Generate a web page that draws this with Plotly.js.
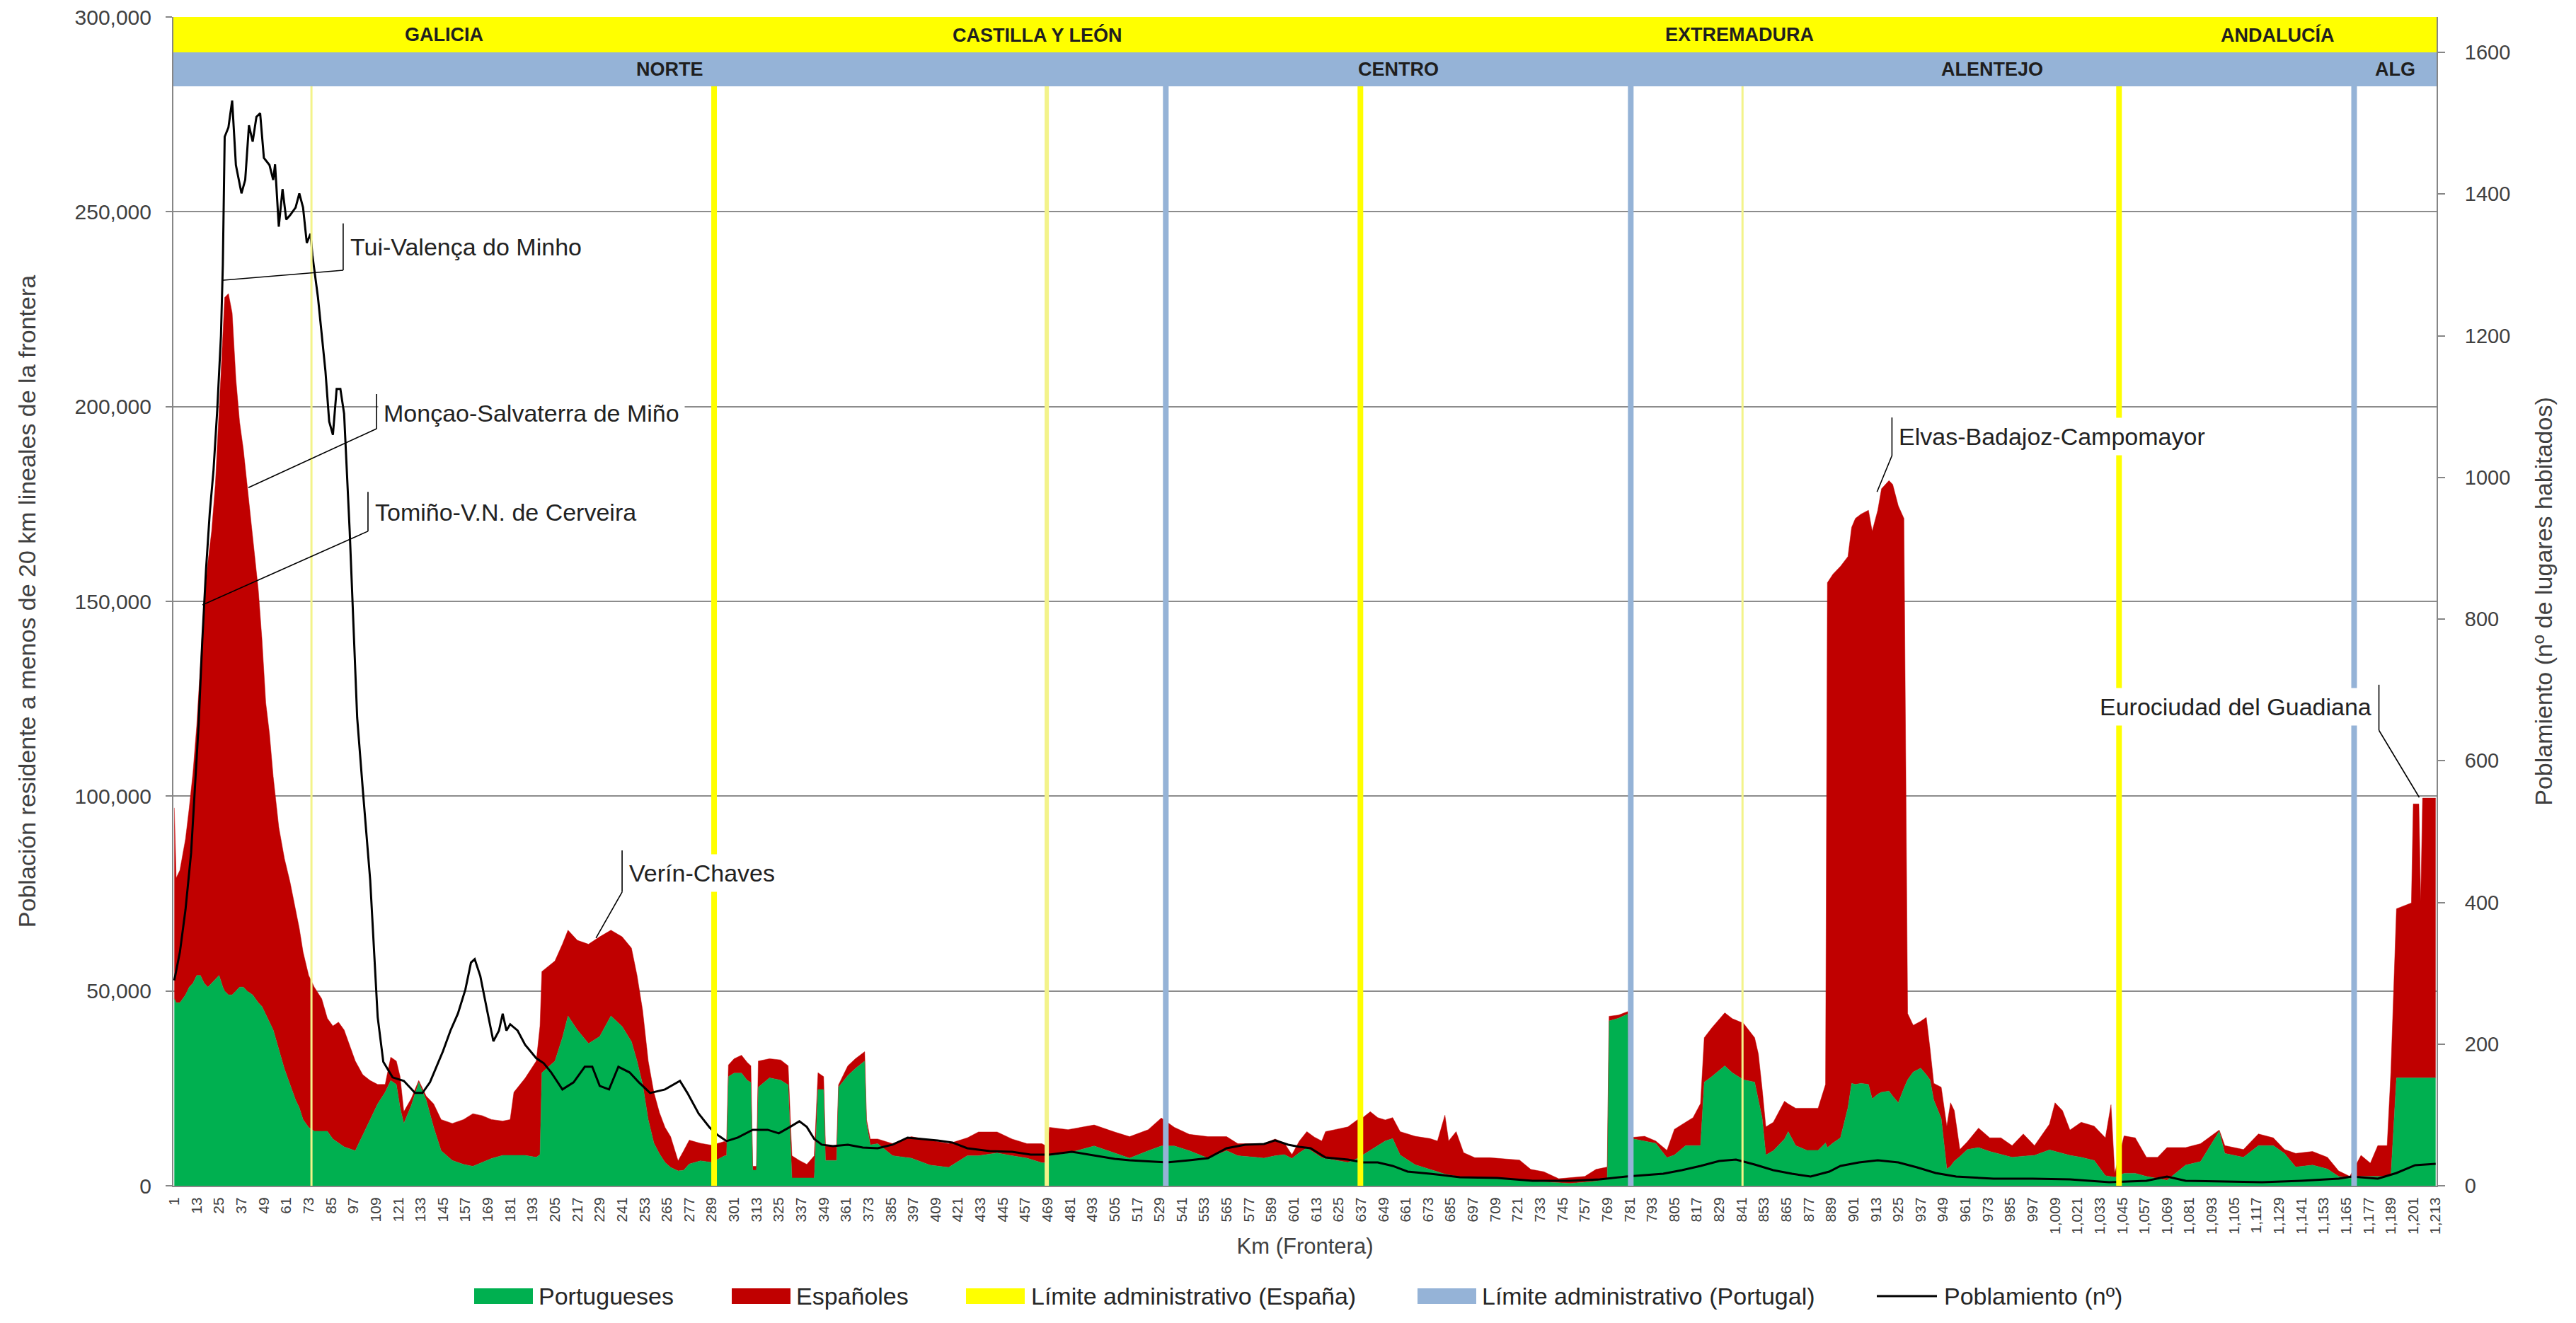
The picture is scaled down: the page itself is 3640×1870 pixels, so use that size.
<!DOCTYPE html>
<html>
<head>
<meta charset="utf-8">
<script src="https://cdn.plot.ly/plotly-3.0.1.min.js"></script>
<style>html,body{margin:0;padding:0;background:#fff;}#chart{width:3640px;height:1870px;}</style>
</head>
<body>
<div id="chart"></div>
<script>
// ---- Data (km of frontier) ----
const km = [1,2,4,7,9,11,13,15,17,19,
21,23,25,27,28,30,32,34,36,38,
40,43,46,48,50,52,54,57,60,63,
66,68,70,73,76,80,83,86,89,92,
95,98,102,106,110,114,117,120,122,124,
128,132,136,140,144,150,156,161,166,171,
177,181,183,189,195,197,198,205,209,212,
217,223,229,235,241,246,249,252,255,258,
261,264,267,271,274,277,283,289,296,297,
298,301,305,308,310,311,313,314,320,326,
330,332,336,340,344,346,349,350,356,357,
362,366,371,372,374,378,386,396,406,416,
426,432,442,450,458,466,469,470,480,494,
505,513,523,530,537,545,555,565,571,585,
591,596,600,604,608,612,616,618,624,630,
635,638,642,646,650,654,658,666,674,678,
682,684,688,692,698,706,714,722,728,735,
743,749,757,763,769,770,775,780,782,789,
795,801,805,811,815,819,821,825,832,836,
842,848,850,852,854,858,864,866,870,876,
882,886,887,890,894,898,900,902,905,909,
911,914,916,920,922,925,928,930,933,937,
940,942,944,948,951,953,955,958,962,968,
974,980,986,992,998,1006,1009,1013,1017,1023,
1030,1036,1039,1041,1046,1052,1058,1064,1069,1079,
1087,1097,1100,1110,1118,1126,1132,1138,1147,1155,
1161,1167,1173,1178,1182,1187,1189,1192,1200,1201,
1204,1205,1206,1213];

const portugueses = [48000,47000,47000,49000,51000,52000,54000,54000,52000,51000,
52000,53000,54000,51000,50000,49000,49000,50000,51000,51000,
50000,49000,47000,46000,44000,42000,40000,35000,30000,26000,
22000,20000,17000,15000,14000,14000,14000,12000,11000,10000,
9500,9000,13000,17000,21000,24000,27000,26000,20000,16000,
20600,26500,22000,15000,9000,6500,5500,5000,6000,7000,
7800,7800,7800,7800,7300,8000,29000,32000,38000,43600,
40000,36500,38300,43600,40900,37000,32000,26000,17000,11000,
8200,6000,4700,3800,4000,5600,6400,6000,7700,7700,
28000,28900,28900,27100,26500,4000,4000,25300,27700,27100,
25900,2000,2000,2000,2000,24700,24700,6500,6500,25300,
28300,30100,32000,16000,10500,10800,7700,7100,5300,4700,
7700,7700,8400,7700,7100,5900,5900,7700,8400,10200,
8400,7100,9000,10200,10200,9000,7100,9000,7700,7100,
7700,8000,7000,8500,9700,8500,7200,7000,6500,6000,
7000,7900,9000,10300,11500,12100,7900,5400,4200,3500,
3000,2800,2400,2100,2000,1900,1800,1500,1200,1000,
700,600,900,1200,1800,42300,43000,44100,12100,11500,
10900,7200,7900,10300,10300,10300,26600,28000,30800,29000,
27200,26600,22000,17500,7900,9000,12000,13900,10300,9100,
9100,11000,9800,11000,12300,20000,26300,26000,26300,26000,
22300,23500,24000,24300,23000,21300,25000,27200,29200,30200,
28500,27200,22000,17300,4300,5000,6300,7500,9300,9800,
8800,8000,7300,7600,7800,9200,8800,8200,7800,7300,
6500,2600,2400,2200,3200,3200,2400,1800,1400,5300,
6200,14000,8300,7300,10300,10300,8300,4800,5300,4300,
2400,1900,2400,2400,2400,2400,2400,27700,27700,27700,
27700,27700,27700,27700];

const espanoles = [49000,32000,34000,40000,46000,54000,64000,81000,98000,109000,
116000,127000,144000,167000,178000,180000,175000,157000,145000,138000,
130000,117000,106000,94000,80000,74000,65000,57000,54000,52000,
49000,46000,43000,39000,37000,34000,29000,29000,31000,30000,
26500,23000,15500,10000,5000,2000,6000,6000,8000,3000,
1800,500,1000,6000,8000,9500,11500,13500,12000,10000,
8800,9200,16200,19800,24700,33000,26000,25700,24000,22000,
23000,25500,25600,22000,23000,24000,22000,19000,15000,13000,
10600,9000,7900,2600,5000,6100,4500,4400,3700,3300,
3000,3700,4600,4600,4300,1000,1000,6700,4900,5200,
4900,5700,4500,3500,5700,4300,3300,3700,3700,600,
2500,2500,2400,1000,1500,1200,3100,5500,6400,6100,
4600,6100,5400,4300,3700,4900,4100,7300,6000,5400,
5400,5500,5400,7200,4800,4200,5500,3600,3100,3700,
4300,2900,1000,3000,4200,4000,4300,6900,8000,9100,
9900,9600,10000,7200,5400,5400,6000,7300,7900,8000,
15100,8700,11500,6400,5200,5300,5100,5100,3000,2600,
1100,1500,1500,3000,3000,1200,800,600,300,1200,
600,1900,6600,6000,7200,10800,11400,12500,13600,13900,
14500,11400,11800,7500,7200,7300,9700,7100,9600,10800,
10800,15000,145000,146000,146700,141500,142700,145300,146100,147400,
145700,149900,154900,156700,157000,153200,146300,17000,12000,12000,
14700,8000,4300,8000,11000,16300,13000,1800,2000,5000,
3500,4300,3000,5700,2500,6600,12500,11100,6500,9000,
8800,9700,18400,1000,9600,9100,4900,5500,8400,4500,
4600,300,2000,2000,3000,2000,1000,3500,3500,3000,
1400,500,5400,3400,7900,7900,26800,43400,44900,70300,
70300,45300,71800,71800];

const kmPob = [1,4,7,10,12,14,16,18,20,22,
24,26,27,28,30,32,34,37,39,41,
43,45,47,49,52,54,55,57,59,61,
63,66,68,70,72,74,75,78,82,84,
86,88,90,92,95,99,102,106,110,113,
118,124,130,134,138,141,145,149,153,157,
160,162,165,169,172,175,177,179,181,185,
189,195,199,203,209,215,221,225,229,234,
239,245,250,256,264,272,276,282,288,292,
297,303,311,319,325,331,336,340,344,348,
354,362,370,378,386,394,402,410,418,426,
438,450,460,470,482,494,505,513,525,533,
545,555,565,575,585,591,598,604,610,618,
630,638,646,654,662,674,690,710,729,749,
765,779,799,809,819,829,838,848,858,868,
878,888,894,904,914,925,935,945,956,976,
997,1017,1038,1058,1069,1079,1100,1120,1141,1161,
1168,1182,1192,1202,1213];

const poblamiento = [290,330,390,470,560,650,770,870,950,1010,
1095,1200,1300,1481,1494,1532,1441,1401,1420,1497,
1474,1509,1514,1451,1441,1420,1442,1354,1407,1364,
1370,1381,1401,1381,1331,1344,1314,1254,1150,1079,
1060,1125,1125,1090,924,661,560,431,238,175,
153,148,131,131,146,165,190,219,243,277,
315,320,296,243,204,219,243,219,228,219,
199,180,173,160,136,146,168,168,141,136,
168,160,146,131,136,148,131,102,82,72,
63,68,79,79,74,83,91,83,66,58,
56,58,54,53,58,68,66,64,61,53,
49,48,44,44,48,43,38,36,34,33,
36,39,53,58,59,64,58,55,53,40,
37,33,33,28,20,17,12,11,7,7,
9,13,17,22,28,35,37,30,22,17,
13,20,28,33,36,33,26,18,13,10,
10,9,5,7,13,7,6,5,7,10,
13,10,18,29,31];

// Administrative limits (km)
const limitesEspanaRegion = [290.3, 636.7, 1043.3];
const limitesEspanaProvincia = [74.5, 468.6, 841.5];
const limitesPortugal = [532.4, 781.6, 1169.3];

// Region bands
const regionesEspana = ['GALICIA','CASTILLA Y LEÓN','EXTREMADURA','ANDALUCÍA'];
const limitesBandaEspana = [1, 290.3, 636.7, 1043.3, 1213];
const regionesPortugal = ['NORTE','CENTRO','ALENTEJO','ALG'];
const limitesBandaPortugal = [1, 532.4, 781.6, 1169.3, 1213];

// Callouts: label, anchor km, label y, bar km, bar y top, bar y bottom, target km, target y, side
const callouts = [
  {text:'Tui-Valença do Minho', x:92.3, y:241000, bx:91.5, by0:247000, by1:235000, tx:26.3, ty:232400, side:'left'},
  {text:'Monçao-Salvaterra de Miño', x:110.1, y:198300, bx:109.4, by0:203200, by1:194300, tx:40.7, ty:179200, side:'left'},
  {text:'Tomiño-V.N. de Cerveira', x:105.6, y:172900, bx:104.8, by0:178100, by1:168000, tx:16.1, ty:149100, side:'left'},
  {text:'Verín-Chaves', x:241.8, y:80300, bx:241, by0:86100, by1:75400, tx:227, ty:63600, side:'left'},
  {text:'Elvas-Badajoz-Campomayor', x:922.3, y:192300, bx:921.6, by0:197200, by1:187400, tx:913.6, ty:178100, side:'left'},
  {text:'Eurociudad del Guadiana', x:1181.8, y:122900, bx:1182.6, by0:128600, by1:116900, tx:1204.2, ty:99700, side:'right'}
];

// ---- Styles ----
const C = {pt:'#00b050', es:'#c00000', yel:'#ffff00', yelPale:'#f3f38a', blue:'#95b3d7', txt:'#404040', dark:'#1f1f1f', grid:'#8c8c8c', axis:'#868686'};
const FONT = 'Liberation Sans, Arial, sans-serif';

const traces = [
  {type:'scatter', mode:'lines', name:'Portugueses', x:km, y:portugueses, stackgroup:'pop',
   line:{width:0.5, color:C.pt}, fillcolor:C.pt, hoverinfo:'skip'},
  {type:'scatter', mode:'lines', name:'Españoles', x:km, y:espanoles, stackgroup:'pop',
   line:{width:0.5, color:C.es}, fillcolor:C.es, hoverinfo:'skip'},
  {type:'scatter', mode:'lines', name:'Poblamiento (nº)', x:kmPob, y:poblamiento, yaxis:'y2',
   line:{width:3, color:'#000000'}, hoverinfo:'skip'}
];

const bandTop = 1, bandMid = 0.96973, bandBot = 0.94068;
const shapes = [];
const annotations = [];

// bands
shapes.push({type:'rect', xref:'paper', yref:'paper', x0:0, x1:1, y0:bandMid, y1:bandTop, fillcolor:C.yel, line:{width:0}, layer:'above'});
shapes.push({type:'rect', xref:'paper', yref:'paper', x0:0, x1:1, y0:bandBot, y1:bandMid, fillcolor:C.blue, line:{width:0}, layer:'above'});

regionesEspana.forEach((r,i)=>{
  annotations.push({xref:'x', yref:'paper', x:(limitesBandaEspana[i]+limitesBandaEspana[i+1])/2, y:(bandMid+bandTop)/2,
    text:'<b>'+r+'</b>', showarrow:false, font:{size:27, color:C.dark, family:FONT}, xanchor:'center', yanchor:'middle'});
});
regionesPortugal.forEach((r,i)=>{
  annotations.push({xref:'x', yref:'paper', x:(limitesBandaPortugal[i]+limitesBandaPortugal[i+1])/2, y:(bandBot+bandMid)/2,
    text:'<b>'+r+'</b>', showarrow:false, font:{size:27, color:C.dark, family:FONT}, xanchor:'center', yanchor:'middle'});
});

// limit lines
limitesEspanaProvincia.forEach((k,i)=>{
  shapes.push({type:'line', xref:'x', yref:'paper', x0:k, x1:k, y0:0, y1:bandBot, line:{color:C.yelPale, width: i===1?6:3}, layer:'above'});
});
limitesEspanaRegion.forEach(k=>{
  shapes.push({type:'line', xref:'x', yref:'paper', x0:k, x1:k, y0:0, y1:bandBot, line:{color:C.yel, width:8}, layer:'above'});
});
limitesPortugal.forEach(k=>{
  shapes.push({type:'line', xref:'x', yref:'paper', x0:k, x1:k, y0:0, y1:bandBot, line:{color:C.blue, width:8}, layer:'above'});
});

// callouts
callouts.forEach(c=>{
  shapes.push({type:'line', xref:'x', yref:'y', x0:c.bx, x1:c.bx, y0:c.by0, y1:c.by1, line:{color:'#000', width:1.6}, layer:'above'});
  shapes.push({type:'line', xref:'x', yref:'y', x0:c.bx, x1:c.tx, y0:c.by1, y1:c.ty, line:{color:'#000', width:1.6}, layer:'above'});
  annotations.push({xref:'x', yref:'y', x:c.x, y:c.y, text:c.text, showarrow:false,
    xanchor:c.side, yanchor:'middle', bgcolor:'#ffffff', borderpad:7,
    font:{size:34, color:'#222222', family:FONT}});
});

// custom legend (paper coordinates)
const legY0 = -0.10109, legY1 = -0.08777, legYc = -0.09443;
const legendItems = [
  {name:traces[0].name, kind:'rect', color:C.pt, x0:0.13290, x1:0.15885, tx:0.16073},
  {name:traces[1].name, kind:'rect', color:C.es, x0:0.24672, x1:0.27267, tx:0.27455},
  {name:'Límite administrativo (España)', kind:'rect', color:C.yel, x0:0.35022, x1:0.37617, tx:0.37836},
  {name:'Límite administrativo (Portugal)', kind:'rect', color:C.blue, x0:0.54972, x1:0.57567, tx:0.57755},
  {name:traces[2].name, kind:'line', color:'#000000', x0:0.75266, x1:0.77924, tx:0.78174}
];
legendItems.forEach(it=>{
  if(it.kind==='rect'){
    shapes.push({type:'rect', xref:'paper', yref:'paper', x0:it.x0, x1:it.x1, y0:legY0, y1:legY1, fillcolor:it.color, line:{width:0}});
  } else {
    shapes.push({type:'line', xref:'paper', yref:'paper', x0:it.x0, x1:it.x1, y0:legYc, y1:legYc, line:{color:it.color, width:3}});
  }
  annotations.push({xref:'paper', yref:'paper', x:it.tx, y:legYc, text:it.name, showarrow:false,
    xanchor:'left', yanchor:'middle', font:{size:34, color:'#262626', family:FONT}});
});

const layout = {
  width:3640, height:1870,
  margin:{l:245, r:197, t:24, b:194},
  paper_bgcolor:'#ffffff', plot_bgcolor:'#ffffff',
  showlegend:false,
  font:{family:FONT, color:C.txt},
  xaxis:{range:[0.5,1213.5], tickmode:'linear', tick0:1, dtick:12, tickformat:',d', tickangle:-90,
    tickfont:{size:21, color:C.txt}, ticks:'', ticklabelstandoff:6, showgrid:false, zeroline:false,
    showline:true, linecolor:C.axis, linewidth:2,
    title:{text:'Km (Frontera)', font:{size:31, color:C.txt}, standoff:6}},
  yaxis:{range:[0,300000], tickmode:'linear', tick0:0, dtick:50000, tickformat:',d',
    tickfont:{size:30, color:C.txt}, ticks:'outside', ticklen:9, tickcolor:C.axis, tickwidth:2, ticklabelstandoff:14,
    showgrid:true, gridcolor:C.grid, gridwidth:2, zeroline:false, showline:true, linecolor:C.axis, linewidth:2,
    title:{text:'Población residente a menos de 20 km lineales de la frontera', font:{size:34, color:C.txt}, standoff:45}},
  yaxis2:{overlaying:'y', side:'right', range:[0,1650], tickmode:'linear', tick0:0, dtick:200,
    tickfont:{size:29, color:C.txt}, ticks:'outside', ticklen:10, tickcolor:C.axis, tickwidth:2, ticklabelstandoff:22,
    showgrid:false, zeroline:false, showline:true, linecolor:C.axis, linewidth:2,
    title:{text:'Poblamiento (nº de lugares habitados)', font:{size:34, color:C.txt}, standoff:36}},
  shapes:shapes,
  annotations:annotations
};

Plotly.newPlot('chart', traces, layout, {staticPlot:true, displayModeBar:false});
</script>
</body>
</html>
